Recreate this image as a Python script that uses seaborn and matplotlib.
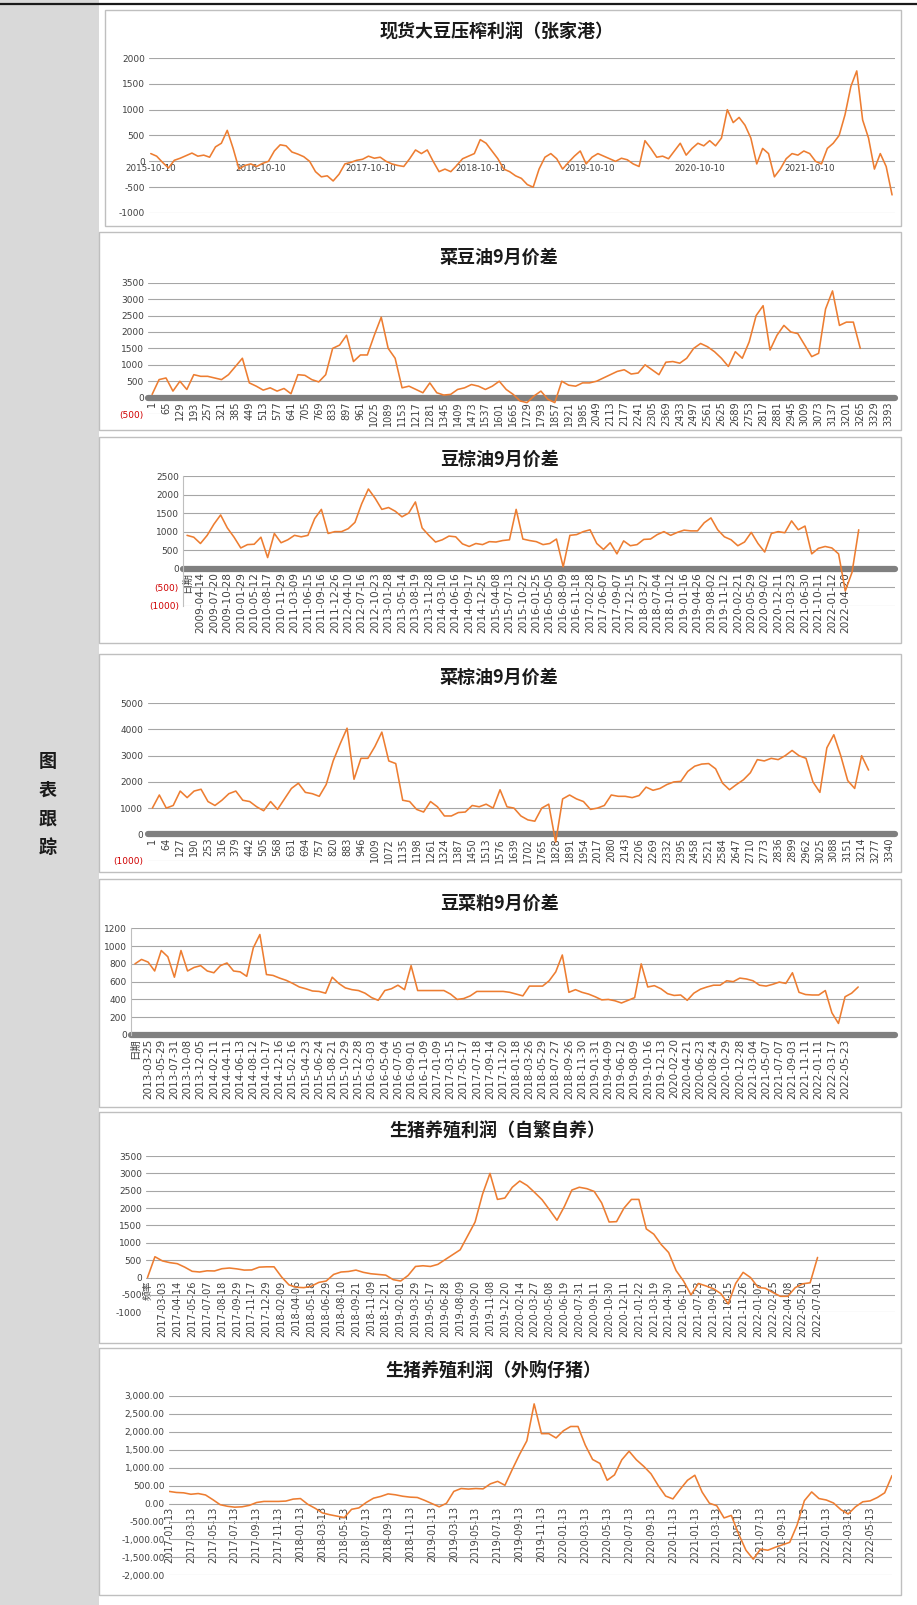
import numpy as np
import seaborn as sns
import matplotlib.pyplot as plt
from matplotlib.patches import Rectangle
from matplotlib.lines import Line2D

sns.set_theme(style="white")
plt.rcParams['font.family'] = ['DejaVu Sans', 'Noto Sans CJK SC']
plt.rcParams['axes.unicode_minus'] = False

W, H = 917, 1605
ORANGE = '#ED7D31'
GRID = '#a6a6a6'
BAND = '#808080'
TXT = '#404040'
RED = '#d00000'
CJK = ['Noto Sans CJK SC', 'DejaVu Sans']

# -----------------------------
# data

# 现货大豆压榨利润（张家港）
crush_vals = [150, 100, -20, -130, 20, 60, 110, 160, 100, 120,
              80, 280, 350, 600, 250, -150, -80, -50, -100, -40,
              0, 200, 320, 300, 180, 140, 90, 0, -200, -300,
              -280, -380, -250, -50, -20, 20, 40, 100, 60, 80,
              0, -50, -80, -100, 50, 220, 150, 220, 0, -200,
              -150, -200, -80, 50, 100, 150, 420, 350, 200, 50,
              -150, -200, -280, -330, -450, -500, -150, 80, 150, 50,
              -150, -20, 100, 200, -50, 80, 150, 100, 50, 0,
              60, 30, -50, -100, 400, 250, 80, 100, 50, 200,
              350, 120, 250, 350, 300, 400, 300, 450, 1000, 750,
              850, 700, 450, -50, 250, 150, -300, -150, 50, 150,
              120, 200, 150, 0, -50, 250, 350, 500, 900, 1450,
              1750, 800, 450, -150, 150, -100, -650]
crush_dates = ['2015-10-10', '2016-10-10', '2017-10-10', '2018-10-10',
               '2019-10-10', '2020-10-10', '2021-10-10']

# 菜豆油9月价差 (one point every 32 rows)
oi_y_vals = [100, 550, 600, 200, 500, 250, 700, 650, 650, 600,
             550, 700, 950, 1200, 450, 350, 230, 300, 200, 280,
             120, 700, 680, 550, 480, 700, 1500, 1600, 1900, 1100,
             1300, 1300, 1900, 2450, 1500, 1200, 300, 350, 250, 150,
             450, 150, 80, 100, 250, 300, 400, 350, 250, 350,
             500, 250, 100, -100, -150, 50, 200, -50, -150, 500,
             380, 350, 450, 450, 500, 600, 700, 800, 850, 720,
             750, 1000, 850, 700, 1080, 1100, 1050, 1200, 1500, 1650,
             1550, 1400, 1200, 950, 1400, 1200, 1700, 2500, 2800, 1450,
             1900, 2200, 2000, 1950, 1600, 1250, 1350, 2700, 3250, 2200,
             2300, 2300, 1500]

# 豆棕油9月价差
y_p_vals = [900, 850, 680, 900, 1200, 1450, 1100, 850, 560, 650,
            660, 850, 300, 950, 700, 780, 900, 860, 900, 1350,
            1600, 950, 1000, 1000, 1080, 1250, 1750, 2150, 1900, 1600,
            1650, 1550, 1400, 1500, 1800, 1100, 900, 720, 780, 880,
            860, 670, 600, 680, 650, 730, 720, 760, 780, 1600,
            800, 760, 730, 650, 680, 800, 50, 900, 920, 1000,
            1050, 680, 520, 700, 400, 750, 620, 650, 790, 800,
            920, 1000, 900, 980, 1040, 1020, 1020, 1240, 1370, 1050,
            860, 780, 620, 720, 980, 680, 450, 950, 1000, 970,
            1290, 1050, 1150, 400, 550, 600, 560, 400, -600, -100,
            1050]
y_p_dates = ['日期', '2009-04-14', '2009-07-20', '2009-10-28', '2010-01-29',
             '2010-05-12', '2010-08-17', '2010-11-29', '2011-03-09', '2011-06-15',
             '2011-09-16', '2011-12-26', '2012-04-10', '2012-07-16', '2012-10-23',
             '2013-01-28', '2013-05-14', '2013-08-19', '2013-11-28', '2014-03-10',
             '2014-06-16', '2014-09-17', '2014-12-25', '2015-04-08', '2015-07-13',
             '2015-10-22', '2016-01-25', '2016-05-05', '2016-08-09', '2016-11-18',
             '2017-02-28', '2017-06-07', '2017-09-07', '2017-12-15', '2018-03-27',
             '2018-07-04', '2018-10-12', '2019-01-16', '2019-04-26', '2019-08-02',
             '2019-11-12', '2020-02-21', '2020-05-29', '2020-09-02', '2020-12-11',
             '2021-03-23', '2021-06-30', '2021-10-11', '2022-01-12', '2022-04-20']

# 菜棕油9月价差
oi_p_vals = [1000, 1500, 1000, 1100, 1650, 1400, 1650, 1720, 1250, 1100,
             1300, 1550, 1650, 1300, 1250, 1050, 900, 1250, 950, 1350,
             1750, 1950, 1600, 1550, 1450, 1900, 2800, 3450, 4050, 2100,
             2900, 2900, 3350, 3900, 2800, 2700, 1300, 1250, 950, 850,
             1250, 1050, 700, 700, 830, 850, 1100, 1050, 1150, 1000,
             1700, 1050, 1000, 700, 550, 500, 1000, 1150, -300, 1350,
             1500, 1350, 1250, 950, 1000, 1100, 1500, 1450, 1450, 1400,
             1480, 1800, 1680, 1750, 1900, 2000, 2020, 2400, 2600, 2680,
             2700, 2500, 1950, 1700, 1900, 2080, 2350, 2850, 2800, 2900,
             2850, 3000, 3200, 3000, 2900, 2000, 1600, 3300, 3800, 3000,
             2050, 1750, 3000, 2450]

# 豆菜粕9月价差
m_rm_vals = [800, 850, 820, 720, 950, 880, 650, 950, 720, 760,
             780, 720, 700, 780, 810, 720, 710, 660, 980, 1130,
             680, 670, 640, 615, 580, 540, 520, 495, 490, 470,
             650, 580, 530, 510, 500, 470, 420, 390, 500, 520,
             560, 510, 780, 500, 500, 500, 500, 500, 460, 400,
             410, 440, 490, 490, 490, 490, 490, 480, 460, 440,
             550, 550, 550, 610, 710, 900, 480, 510, 480, 460,
             430, 395, 400, 385, 360, 390, 420, 800, 540, 555,
             520, 465, 445, 450, 390, 470, 515, 540, 560, 560,
             610, 600, 640, 630, 610, 560, 550, 570, 595, 580,
             700, 480, 455, 450, 450, 500, 250, 130, 430, 470, 540]
m_rm_dates = ['日期', '2013-03-25', '2013-05-29', '2013-07-31', '2013-10-08', '2013-12-05',
              '2014-02-11', '2014-04-11', '2014-06-13', '2014-08-12', '2014-10-17', '2014-12-16',
              '2015-02-16', '2015-04-23', '2015-06-24', '2015-08-21', '2015-10-29', '2015-12-28',
              '2016-03-03', '2016-05-04', '2016-07-05', '2016-09-01', '2016-11-09',
              '2017-01-09', '2017-03-15', '2017-05-17', '2017-07-18', '2017-09-14', '2017-11-20',
              '2018-01-18', '2018-03-26', '2018-05-29', '2018-07-27', '2018-09-26', '2018-11-30',
              '2019-01-31', '2019-04-09', '2019-06-12', '2019-08-09', '2019-10-16', '2019-12-13',
              '2020-02-20', '2020-04-21', '2020-06-23', '2020-08-24', '2020-10-29', '2020-12-28',
              '2021-03-04', '2021-05-07', '2021-07-07', '2021-09-03', '2021-11-11',
              '2022-01-11', '2022-03-17', '2022-05-23']

# 生猪养殖利润（自繁自养）
hog_self_vals = [0, 600, 480, 430, 400, 300, 180, 160, 195, 190,
                 255, 275, 250, 215, 220, 300, 310, 310, 20, -210,
                 -280, -290, -250, -140, -100, 90, 160, 175, 215, 150,
                 110, 90, 70, -60, -100, 60, 320, 340, 320, 380,
                 520, 660, 800, 1200, 1600, 2400, 3000, 2250, 2290, 2600,
                 2780, 2650, 2450, 2240, 1950, 1650, 2050, 2520, 2600, 2560,
                 2480, 2150, 1600, 1610, 2000, 2250, 2250, 1400, 1250, 950,
                 720, 200, -100, -500, -170, -240, -320, -460, -760, -170,
                 150, 0, -280, -310, -430, -540, -540, -290, -180, -150,
                 580]
hog_self_dates = ['频率', '2017-03-03', '2017-04-14', '2017-05-26', '2017-07-07', '2017-08-18',
                  '2017-09-29', '2017-11-17', '2017-12-29', '2018-02-09', '2018-04-06',
                  '2018-05-18', '2018-06-29', '2018-08-10', '2018-09-21', '2018-11-09',
                  '2018-12-21', '2019-02-01', '2019-03-29', '2019-05-17', '2019-06-28',
                  '2019-08-09', '2019-09-20', '2019-11-08', '2019-12-20', '2020-02-14',
                  '2020-03-27', '2020-05-08', '2020-06-19', '2020-07-31', '2020-09-11',
                  '2020-10-30', '2020-12-11', '2021-01-22', '2021-03-19', '2021-04-30',
                  '2021-06-11', '2021-07-23', '2021-09-03', '2021-10-15', '2021-11-26',
                  '2022-01-07', '2022-02-25', '2022-04-08', '2022-05-20', '2022-07-01']

# 生猪养殖利润（外购仔猪）
hog_buy_vals = [340, 310, 300, 260, 280, 240, 110, -30, -75, -100,
                -90, -50, 30, 60, 60, 60, 70, 125, 140, -20,
                -130, -260, -310, -350, -390, -160, -120, 30, 150, 200,
                270, 245, 205, 180, 170, 90, 0, -90, 10, 340,
                420, 405, 420, 410, 550, 620, 510, 950, 1370, 1750,
                2780, 1950, 1950, 1830, 2030, 2150, 2150, 1630, 1230, 1120,
                650, 800, 1220, 1460, 1220, 1040, 830, 500, 210, 130,
                400, 650, 790, 320, 10, -60, -400, -330, -850, -1300,
                -1550, -1270, -1300, -1220, -1150, -1080, -600, 80, 325, 140,
                100, 15, -170, -290, -90, 50, 75, 170, 300, 780]
hog_buy_dates = [f'{y}-{m:02d}-13' for y in range(2017, 2023)
                 for m in (1, 3, 5, 7, 9, 11)][:33]

# -----------------------------
fig = plt.figure(figsize=(W / 100, H / 100), dpi=100)
fig.patch.set_facecolor('white')


def fbox(l, t, r, b):
    return (l / W, 1 - b / H), (r - l) / W, (b - t) / H


def make_axes(l, t, r, b):
    (x0, y0), w, h = fbox(l, t, r, b)
    return fig.add_axes([x0, y0, w, h])


def frame(l, t, r, b):
    xy, w, h = fbox(l, t, r, b)
    fig.add_artist(Rectangle(xy, w, h, transform=fig.transFigure, fill=False,
                             edgecolor='#bfbfbf', lw=1.0))


# page background: grey side column and top rule
xy, w, h = fbox(0, 0, 99, H)
fig.add_artist(Rectangle(xy, w, h, transform=fig.transFigure,
                         facecolor='#d9d9d9', edgecolor='none'))
fig.add_artist(Line2D([0, 1], [1 - 3.5 / H] * 2, transform=fig.transFigure,
                      color='#1a1a1a', lw=1.6))
for i, ch in enumerate('图表跟踪'):
    fig.text(48 / W, 1 - (762 + 28.5 * i) / H, ch, ha='center', va='center',
             fontsize=13, fontweight='bold', family=CJK, color='#1a1a1a')


def draw_panel(box, area, title, tx, ty, xs, ys, xlim, yticks, ylabels,
               xticks, xlabels, rot=90, band=False, xfs=7.0, yfs=6.5,
               xpad=2.5, left_line=False):
    frame(*box)
    fig.text(tx / W, 1 - ty / H, title, ha='center', va='center', fontsize=13,
             fontweight='bold', family=CJK, color='#1a1a1a')
    ax = make_axes(*area)
    ax.set_facecolor('none')
    sns.lineplot(x=xs, y=ys, ax=ax, color=ORANGE, linewidth=1.15,
                 estimator=None, zorder=3)
    # spine position first: moving it resets the tick objects
    for s in ax.spines.values():
        s.set_visible(False)
    ax.spines['bottom'].set_position(('data', 0))
    if left_line:
        ax.spines['left'].set_visible(True)
        ax.spines['left'].set_color('#bfbfbf')
        ax.spines['left'].set_linewidth(0.8)
    ax.set_xlim(*xlim)
    ax.set_yticks(yticks)
    ax.set_yticklabels(ylabels)
    ax.set_ylim(yticks[0], yticks[-1])
    ax.set_xticks(xticks)
    ax.set_xticklabels(xlabels, rotation=rot)
    ax.grid(axis='y', color=GRID, lw=0.8)
    ax.grid(axis='x', visible=False)
    if band:
        ax.axhline(0, color=BAND, lw=4.5, zorder=2, clip_on=False)
    ax.tick_params(axis='y', length=0, pad=3, labelsize=yfs, labelcolor=TXT)
    ax.tick_params(axis='x', length=0, pad=xpad, labelsize=xfs, labelcolor=TXT,
                   labelrotation=rot)
    for t in ax.get_yticklabels():
        if t.get_text().startswith('('):
            t.set_color(RED)
    ax.set_xlabel('')
    ax.set_ylabel('')
    return ax


# 1 现货大豆压榨利润（张家港）
yt = list(range(-1000, 2001, 500))
draw_panel((105, 10, 901, 226), (149, 58, 895, 213), '现货大豆压榨利润（张家港）', 497, 32,
           np.arange(len(crush_vals)), crush_vals, (-0.3, 126.5), yt, [str(v) for v in yt],
           np.arange(len(crush_dates)) * 18.67, crush_dates, rot=0, xfs=6.3, xpad=2)

# 2 菜豆油9月价差
yt = list(range(-500, 3501, 500))
yl = ['(500)'] + [str(v) for v in yt[1:]]
draw_panel((99, 232, 901, 430), (148, 282.7, 895, 414.1), '菜豆油9月价差', 499, 257,
           1 + 32 * np.arange(len(oi_y_vals)), oi_y_vals, (-18, 3425), yt, yl,
           list(range(1, 3394, 64)), [str(v) for v in range(1, 3394, 64)], band=True)

# 3 豆棕油9月价差
yt = list(range(-1000, 2501, 500))
yl = ['(1000)', '(500)'] + [str(v) for v in yt[2:]]
draw_panel((99, 437, 901, 643), (183, 476, 895, 605.8), '豆棕油9月价差', 499, 459,
           np.arange(len(y_p_vals)) * 0.5, y_p_vals, (-0.3, 52.7), yt, yl,
           np.arange(len(y_p_dates)), y_p_dates, band=True, left_line=True, xfs=7.6)

# 4 菜棕油9月价差
yt = list(range(-1000, 5001, 1000))
yl = ['(1000)'] + [str(v) for v in yt[1:]]
draw_panel((99, 654, 901, 872), (147.5, 703.3, 895, 860.5), '菜棕油9月价差', 499, 677,
           np.arange(len(oi_p_vals)) * 0.5, oi_p_vals, (-0.35, 53.4), yt, yl,
           np.arange(54), [str(1 + 63 * i) for i in range(54)], band=True)

# 5 豆菜粕9月价差
yt = list(range(0, 1201, 200))
draw_panel((99, 879, 901, 1107), (131, 928.3, 895, 1035), '豆菜粕9月价差', 499, 903,
           np.arange(len(m_rm_vals)) * 0.5, m_rm_vals, (-0.3, 57.8), yt, [str(v) for v in yt],
           np.arange(len(m_rm_dates)), m_rm_dates, band=True, left_line=True, xfs=7.5)

# 6 生猪养殖利润（自繁自养）
yt = list(range(-1000, 3501, 500))
draw_panel((99, 1112, 901, 1343), (146, 1156, 895, 1312.3), '生猪养殖利润（自繁自养）', 497, 1131,
           np.arange(len(hog_self_vals)) * 0.5, hog_self_vals, (-0.1, 50.2), yt, [str(v) for v in yt],
           np.arange(len(hog_self_dates)), hog_self_dates, xpad=2)

# 7 生猪养殖利润（外购仔猪）
yt = list(range(-2000, 3001, 500))
draw_panel((99, 1348, 901, 1595), (169, 1396, 892, 1575.3), '生猪养殖利润（外购仔猪）', 493, 1370,
           np.arange(len(hog_buy_vals)) / 3, hog_buy_vals, (0, 33), yt, [f'{v:,.2f}' for v in yt],
           np.arange(len(hog_buy_dates)), hog_buy_dates, xpad=2)

fig.savefig('out.png', dpi=100)
